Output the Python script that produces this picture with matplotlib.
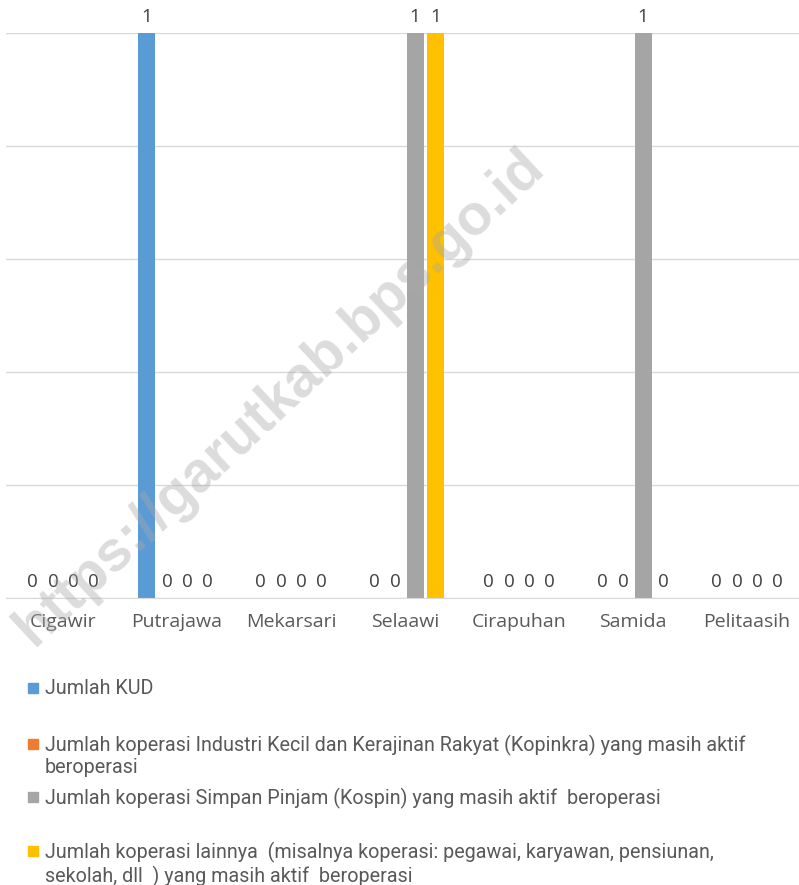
import matplotlib.pyplot as plt
import numpy as np
from matplotlib.patches import Rectangle

categories = ["Cigawir", "Putrajawa", "Mekarsari", "Selaawi", "Cirapuhan", "Samida", "Pelitaasih"]
kud = [0, 1, 0, 0, 0, 0, 0]
kopinkra = [0, 0, 0, 0, 0, 0, 0]
kospin = [0, 0, 0, 1, 0, 1, 0]
lainnya = [0, 0, 0, 1, 0, 0, 0]
series_labels = [
    "Jumlah KUD",
    "Jumlah koperasi Industri Kecil dan Kerajinan Rakyat (Kopinkra) yang masih aktif\nberoperasi",
    "Jumlah koperasi Simpan Pinjam (Kospin) yang masih aktif  beroperasi",
    "Jumlah koperasi lainnya  (misalnya koperasi: pegawai, karyawan, pensiunan,\nsekolah, dll  ) yang masih aktif  beroperasi",
]
colors = ["#5b9bd5", "#ed7d31", "#a5a5a5", "#ffc000"]

W, H = 799, 885
fig = plt.figure(figsize=(W / 100, H / 100), dpi=100)
ax = fig.add_axes([6 / W, 1 - 598 / H, 798 / W, 565 / H])

x = np.arange(len(categories))
step = 0.1776
bw = 0.149
for i, vals in enumerate([kud, kopinkra, kospin, lainnya]):
    bars = ax.bar(x + (i - 1.5) * step, vals, width=bw, color=colors[i], zorder=2)
    ax.bar_label(bars, fmt="%d", padding=5, fontsize=13.5, color="#404040",
                 family="Open Sans")

ax.set_xlim(-0.5, len(categories) - 0.5)
ax.set_ylim(0, 1)
ax.set_yticks(np.linspace(0, 1, 6))
ax.set_yticklabels([])
ax.tick_params(axis="y", length=0)
ax.grid(axis="y", color="#d9d9d9", linewidth=1, zorder=0)
ax.set_xticks(x)
ax.set_xticklabels(categories, fontsize=14, color="#595959", family="Open Sans")
ax.tick_params(axis="x", length=0, pad=11)
for s in ["top", "right", "left"]:
    ax.spines[s].set_visible(False)
ax.spines["bottom"].set_color("#d9d9d9")

# legend
leg_y = [688, 744, 797, 851]
for c, lab, y in zip(colors, series_labels, leg_y):
    fig.patches.append(Rectangle((28 / W, 1 - (y + 5) / H), 10 / W, 10 / H,
                                 transform=fig.transFigure, color=c))
    fig.text(45 / W, 1 - (y - 9) / H, lab, fontsize=14.2, color="#595959",
             family="Roboto", va="top", linespacing=1.15)

# watermark
fig.text(280 / W, 1 - 398 / H, "https://garutkab.bps.go.id", fontsize=41,
         fontweight="bold", family="Liberation Sans", color="#a8a8a8", alpha=0.4,
         rotation=43, ha="center", va="center")

fig.savefig("out.png", dpi=100)
